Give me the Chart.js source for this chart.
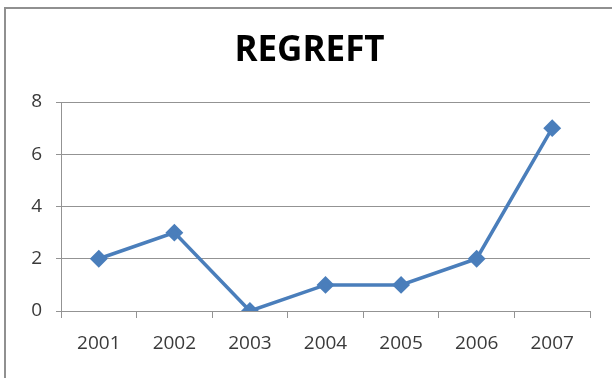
<!DOCTYPE html>
<html>
<head>
<meta charset="utf-8">
<script src="https://cdn.jsdelivr.net/npm/chart.js@4"></script>
<style>
  html, body { margin: 0; padding: 0; background: #fff; }
  #wrap { width: 612px; height: 378px; }
</style>
</head>
<body>
<div id="wrap"><canvas id="regreftChart" width="612" height="378"></canvas></div>
<script>
// Datos del grafico
const years = ['2001', '2002', '2003', '2004', '2005', '2006', '2007'];
const regreftValues = [2, 3, 0, 1, 1, 2, 7];
const yTicks = [0, 2, 4, 6, 8];

const lineColor = '#4a7ebb';
const gridColor = '#939393';
const textColor = '#3a3a3a';

// Marco exterior (borde gris arriba e izquierda)
const framePlugin = {
  id: 'frame',
  beforeDraw(chart) {
    const ctx = chart.ctx;
    ctx.save();
    ctx.fillStyle = '#fff';
    ctx.fillRect(0, 0, chart.width, chart.height);
    ctx.strokeStyle = '#909090';
    ctx.lineWidth = 2;
    ctx.beginPath();
    ctx.moveTo(5, chart.height);
    ctx.lineTo(5, 8);
    ctx.lineTo(chart.width, 8);
    ctx.stroke();
    ctx.restore();
  }
};

new Chart(document.getElementById('regreftChart'), {
  type: 'line',
  data: {
    labels: years,
    datasets: [{
      label: 'REGREFT',
      data: regreftValues,
      borderColor: lineColor,
      backgroundColor: lineColor,
      borderWidth: 3.5,
      pointStyle: 'rectRot',
      pointRadius: 6.5,
      pointBackgroundColor: lineColor,
      pointBorderColor: lineColor,
      tension: 0
    }]
  },
  options: {
    responsive: false,
    animation: false,
    layout: { padding: { left: 7, right: 0, top: 0, bottom: 0 } },
    plugins: {
      legend: { display: false },
      tooltip: { enabled: false },
      title: {
        display: true,
        text: 'REGREFT',
        color: '#000',
        font: { family: '"Liberation Sans Narrow", "Open Sans", sans-serif', size: 35, weight: 'bold', lineHeight: 1.2 },
        padding: { top: 30, bottom: 30 }
      }
    },
    scales: {
      x: {
        offset: true,
        grid: { offset: true, drawOnChartArea: false, drawTicks: true, tickLength: 7, color: gridColor },
        border: { display: true, color: gridColor },
        ticks: { color: textColor, padding: 14, font: { family: '"Open Sans", sans-serif', size: 19 } },
        afterFit(scale) { scale.height = 67; }
      },
      y: {
        min: 0,
        max: 8,
        afterBuildTicks(scale) { scale.ticks = yTicks.map(v => ({ value: v })); },
        grid: { color: gridColor, tickLength: 5 },
        border: { display: true, color: gridColor },
        ticks: { color: textColor, padding: 14, font: { family: '"Open Sans", sans-serif', size: 19 } },
        afterFit(scale) { scale.width = 54; }
      },
      yRight: {
        position: 'right',
        display: true,
        grid: { display: false },
        border: { display: false },
        ticks: { display: false },
        afterFit(scale) { scale.width = 22; }
      }
    }
  },
  plugins: [framePlugin]
});
</script>
</body>
</html>
